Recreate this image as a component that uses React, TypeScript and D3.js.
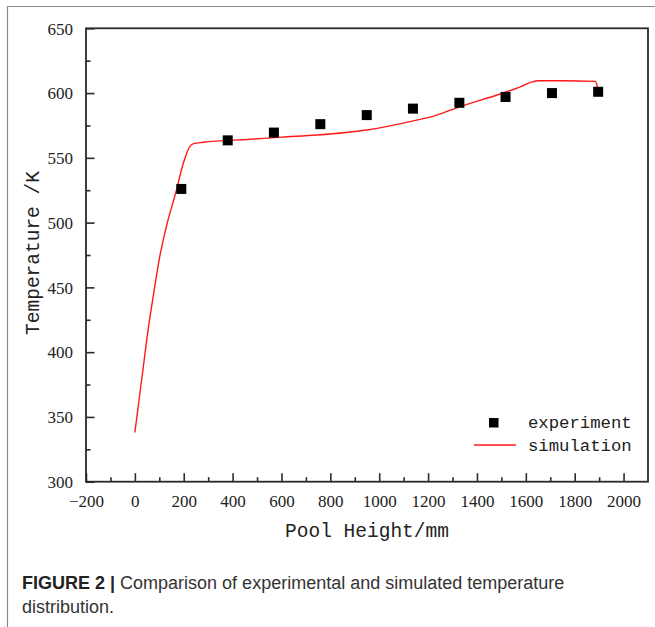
import React, { useEffect, useRef } from "react";
import * as d3 from "d3";

// experiment points (pool height mm, temperature K)
const expHeight = [190, 380, 569, 759, 949, 1138, 1328, 1517, 1707, 1896];
const expTemp = [526, 563.5, 569.5, 576, 583, 588, 592.5, 597, 600, 601];

// simulation curve
const simHeight = [0, 30, 54, 75, 102, 129, 170, 197, 211, 222, 240, 280, 470, 600, 744, 949, 1126, 1236, 1331, 1495, 1580, 1626, 1650, 1750, 1884, 1891, 1895];
const simTemp = [338, 382, 417, 443, 474, 497, 525, 545, 553, 558, 561, 562, 564.3, 566, 567.6, 571.5, 578, 583, 589.5, 599.3, 605, 608.6, 609.5, 609.5, 609, 606, 600];

const xTicks = [-200, 0, 200, 400, 600, 800, 1000, 1200, 1400, 1600, 1800, 2000];
const yTicks = [300, 350, 400, 450, 500, 550, 600, 650];

const W = 655;
const H = 627;
const left = 86, right = 648, top = 28.3, bottom = 481.7;

export default function App() {
  const ref = useRef<SVGSVGElement>(null);

  useEffect(() => {
    const svg = d3.select(ref.current);
    svg.selectAll("*").remove();

    const x = d3.scaleLinear().domain([-200, 2100]).range([left, right]);
    const y = d3.scaleLinear().domain([300, 650]).range([bottom, top]);

    // outer frame (top + left)
    svg.append("line").attr("x1", 7).attr("x2", W).attr("y1", 6.5).attr("y2", 6.5)
      .attr("stroke", "#8a8a8a").attr("stroke-width", 1.2);
    svg.append("line").attr("x1", 7.5).attr("x2", 7.5).attr("y1", 6).attr("y2", H)
      .attr("stroke", "#8a8a8a").attr("stroke-width", 1.2);

    const axisColor = "#2a2a2a";
    const serif = "Liberation Serif, DejaVu Serif, serif";

    // minor ticks
    const xMinor = d3.range(-100, 2100, 200);
    const yMinor = d3.range(325, 650, 50);
    svg.append("g").attr("transform", `translate(0,${bottom})`)
      .call(d3.axisBottom(x).tickValues(xMinor).tickSizeInner(-4.5).tickSizeOuter(0).tickFormat(() => ""))
      .call(g => g.select(".domain").remove())
      .selectAll("line").attr("stroke", axisColor).attr("stroke-width", 1.6);
    svg.append("g").attr("transform", `translate(${left},0)`)
      .call(d3.axisLeft(y).tickValues(yMinor).tickSizeInner(-4.5).tickSizeOuter(0).tickFormat(() => ""))
      .call(g => g.select(".domain").remove())
      .selectAll("line").attr("stroke", axisColor).attr("stroke-width", 1.6);

    // major ticks + labels
    const gx = svg.append("g").attr("transform", `translate(0,${bottom})`)
      .call(d3.axisBottom(x).tickValues(xTicks).tickSizeInner(-8.5).tickSizeOuter(0)
        .tickFormat(d => (d as number) < 0 ? "\u2212" + Math.abs(d as number) : String(d)));
    gx.attr("font-family", serif).attr("font-size", 17);
    gx.select(".domain").remove();
    gx.selectAll("line").attr("stroke", axisColor).attr("stroke-width", 1.6);
    gx.selectAll("text").attr("y", 25).attr("dy", 0)
      .attr("font-family", serif).attr("font-size", 17).attr("fill", "#222");

    const gy = svg.append("g").attr("transform", `translate(${left},0)`)
      .call(d3.axisLeft(y).tickValues(yTicks).tickSizeInner(-8.5).tickSizeOuter(0));
    gy.attr("font-family", serif).attr("font-size", 17);
    gy.select(".domain").remove();
    gy.selectAll("line").attr("stroke", axisColor).attr("stroke-width", 1.6);
    gy.selectAll("text").attr("x", -13).attr("dy", "0.34em")
      .attr("font-family", serif).attr("font-size", 17).attr("fill", "#222");

    // box
    svg.append("rect").attr("x", left).attr("y", top)
      .attr("width", right - left).attr("height", bottom - top)
      .attr("fill", "none").attr("stroke", axisColor).attr("stroke-width", 1.8);

    // simulation line
    const simData = simHeight.map((h, i) => [h, simTemp[i]] as [number, number]);
    const line = d3.line<[number, number]>()
      .x(d => x(d[0])).y(d => y(d[1]))
      .curve(d3.curveMonotoneX);
    svg.append("path").datum(simData).attr("d", line)
      .attr("fill", "none").attr("stroke", "#ff1a1a").attr("stroke-width", 1.4);

    // experiment squares
    const sq = 10;
    svg.selectAll(".exp").data(expHeight).join("rect").attr("class", "exp")
      .attr("x", d => x(d) - sq / 2)
      .attr("y", (d, i) => y(expTemp[i]) - sq / 2)
      .attr("width", sq).attr("height", sq).attr("fill", "#000");

    // axis titles
    const mono = "Liberation Mono, Courier New, monospace";
    svg.append("text").attr("x", 367).attr("y", 537).attr("text-anchor", "middle")
      .attr("font-family", mono).attr("font-size", 19.5).attr("fill", "#222")
      .text("Pool Height/mm");
    svg.append("text").attr("transform", `translate(39,253) rotate(-90)`)
      .attr("text-anchor", "middle")
      .attr("font-family", mono).attr("font-size", 19.5).attr("fill", "#222")
      .text("Temperature /K");

    // legend
    const lg = svg.append("g");
    lg.append("rect").attr("x", 489).attr("y", 418).attr("width", 9.5).attr("height", 9.5).attr("fill", "#000");
    lg.append("text").attr("x", 528).attr("y", 428).attr("font-family", mono)
      .attr("font-size", 17.3).attr("fill", "#222").text("experiment");
    lg.append("line").attr("x1", 474).attr("x2", 516).attr("y1", 445).attr("y2", 445)
      .attr("stroke", "#ff1a1a").attr("stroke-width", 1.4);
    lg.append("text").attr("x", 528).attr("y", 451).attr("font-family", mono)
      .attr("font-size", 17.3).attr("fill", "#222").text("simulation");

    // caption
    const sans = "Liberation Sans, Arial, sans-serif";
    const cap = svg.append("text").attr("x", 22).attr("y", 589)
      .attr("font-family", sans).attr("font-size", 18).attr("fill", "#333");
    cap.append("tspan").attr("font-weight", "bold").attr("fill", "#222").text("FIGURE 2 | ");
    cap.append("tspan").text("Comparison of experimental and simulated temperature");
    svg.append("text").attr("x", 22).attr("y", 613)
      .attr("font-family", sans).attr("font-size", 18).attr("fill", "#333")
      .text("distribution.");
  }, []);

  return (
    <svg ref={ref} width={W} height={H}
      style={{ position: "absolute", left: 0, top: 0, background: "#fff" }} />
  );
}
